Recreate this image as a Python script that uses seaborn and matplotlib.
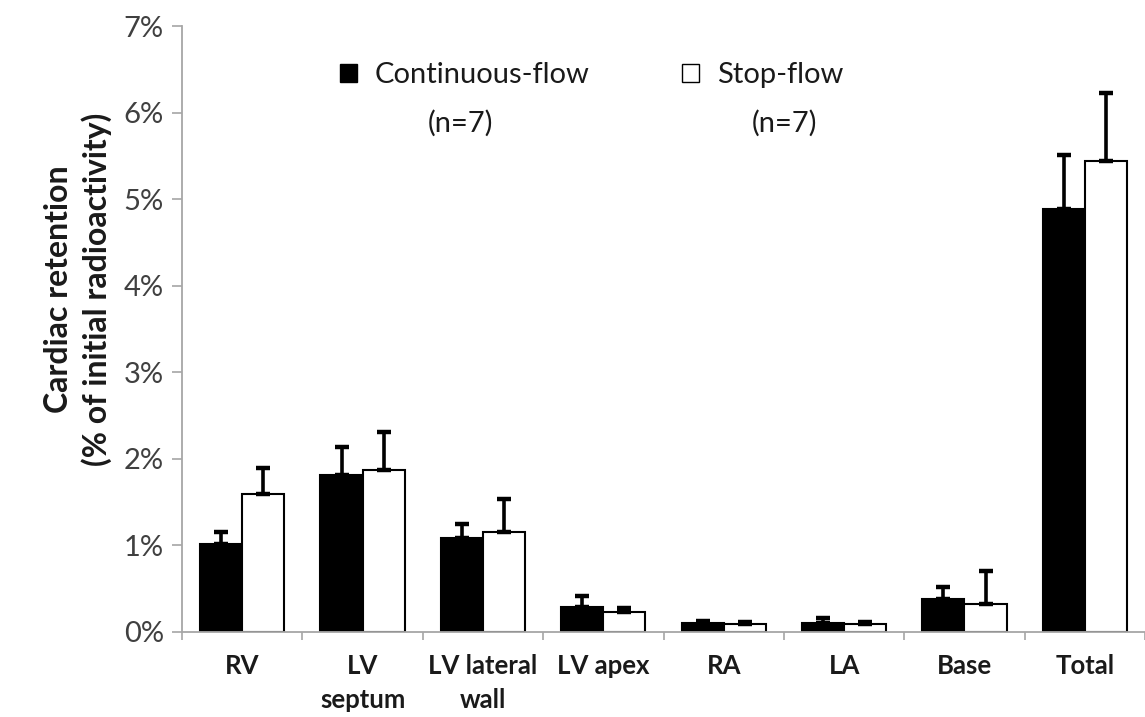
import matplotlib
matplotlib.use("Agg")
import matplotlib.pyplot as plt
import seaborn as sns
import pandas as pd
import numpy as np
from matplotlib.ticker import FixedLocator, FuncFormatter

# ---- data (percent of initial radioactivity) ----
categories = ["RV", "LV\nseptum", "LV lateral\nwall", "LV apex", "RA", "LA", "Base", "Total"]
groups = ["Continuous-flow", "Stop-flow"]
continuous_mean = [1.02, 1.81, 1.09, 0.29, 0.105, 0.105, 0.385, 4.89]
continuous_err = [0.14, 0.33, 0.16, 0.12, 0.02, 0.055, 0.135, 0.62]
stop_mean = [1.59, 1.875, 1.155, 0.23, 0.09, 0.09, 0.32, 5.44]
stop_err = [0.30, 0.435, 0.385, 0.05, 0.02, 0.02, 0.39, 0.79]
yticks = [0, 1, 2, 3, 4, 5, 6, 7]
n_label = "(n=7)"

df = pd.DataFrame({
    "region": categories * 2,
    "group": [groups[0]] * len(categories) + [groups[1]] * len(categories),
    "value": continuous_mean + stop_mean,
})

sns.set_theme(style="white")
regular = ["Lato", "DejaVu Sans"]
plt.rcParams["font.family"] = regular

fig = plt.figure(figsize=(11.45, 7.17), dpi=100)
ax = fig.add_axes([0.159, 0.1186, 0.841, 0.845])

sns.barplot(data=df, x="region", y="value", hue="group", order=categories,
            hue_order=groups, palette={groups[0]: "black", groups[1]: "white"},
            edgecolor="black", linewidth=1.5, width=0.7, errorbar=None, ax=ax,
            legend=True)

# upward-only error bars
for cont, errs in zip(ax.containers, [continuous_err, stop_err]):
    xs = [p.get_x() + p.get_width() / 2 for p in cont.patches]
    ys = [p.get_height() for p in cont.patches]
    ax.errorbar(xs, ys, yerr=[np.zeros(len(errs)), errs], fmt="none",
                ecolor="black", elinewidth=2.6, capsize=5, capthick=3.2, zorder=3)

ax.set_xlim(-0.5, len(categories) - 0.5)
ax.set_ylim(0, 7)
ax.yaxis.set_major_locator(FixedLocator(yticks))
ax.yaxis.set_major_formatter(FuncFormatter(lambda v, p: f"{int(round(v))}%"))

for s in ["top", "right"]:
    ax.spines[s].set_visible(False)
for s in ["left", "bottom"]:
    ax.spines[s].set_color("#a6a6a6")
    ax.spines[s].set_linewidth(1.3)

ax.tick_params(axis="y", which="major", direction="out", length=7, width=1.2,
               color="#a6a6a6", labelsize=21, labelcolor="#404040", pad=6, left=True)
ax.xaxis.set_minor_locator(FixedLocator(np.arange(-0.5, len(categories), 1.0)))
ax.tick_params(axis="x", which="minor", direction="out", length=6, width=1.2,
               color="#a6a6a6", bottom=True)
ax.tick_params(axis="x", which="major", length=0, pad=16, bottom=False)
for lab in ax.get_xticklabels():
    lab.set_fontweight("bold")
    lab.set_fontsize(18.5)
    lab.set_color("#1a1a1a")
    lab.set_multialignment("center")
    lab.set_linespacing(1.5)

ax.set_xlabel("")
ax.set_ylabel("Cardiac retention\n(% of initial radioactivity)",
              fontweight="bold", fontsize=23, color="#1a1a1a", linespacing=1.3,
              rotation_mode="default", ha="center", va="center", multialignment="center")
ax.yaxis.set_label_coords(-0.108, 0.566)

leg = ax.legend(loc="upper left", bbox_to_anchor=(0.164, 0.94), ncol=2, frameon=False,
                fontsize=21, handlelength=0.6, handleheight=0.6, handletextpad=0.6,
                columnspacing=3.15, borderpad=0, borderaxespad=0)
for t in leg.get_texts():
    t.set_color("#1a1a1a")
for h in leg.legend_handles:
    h.set_edgecolor("black")
    h.set_linewidth(1.0)

ax.text(0.2887, 0.840, n_label, transform=ax.transAxes, ha="center", va="center",
        fontsize=21, color="#1a1a1a")
ax.text(0.626, 0.840, n_label, transform=ax.transAxes, ha="center", va="center",
        fontsize=21, color="#1a1a1a")

fig.savefig("out.png", dpi=100)
